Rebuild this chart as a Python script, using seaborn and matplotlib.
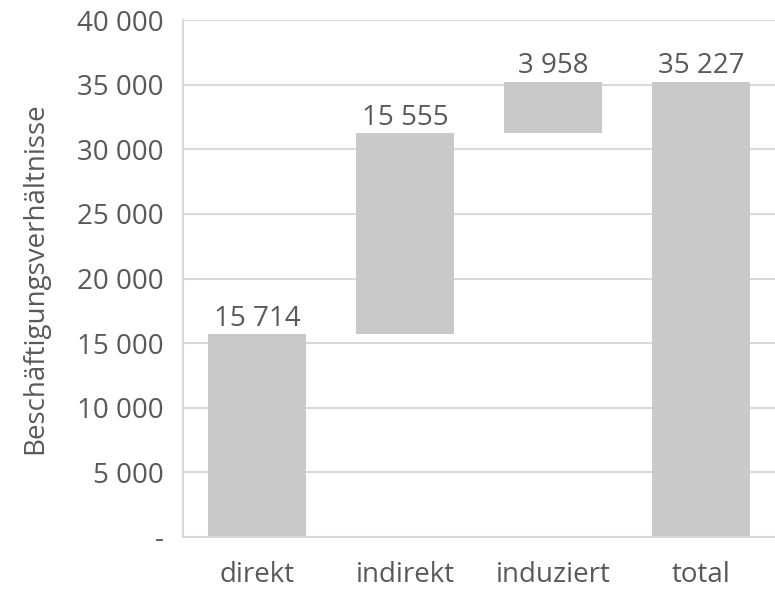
"""
Waterfall of employment effects.
"""
import matplotlib
matplotlib.use('Agg')
import matplotlib.pyplot as plt
import seaborn as sns
import pandas as pd
from matplotlib.ticker import FuncFormatter

categories = ['direkt', 'indirekt', 'induziert', 'total']
values = [15714, 15555, 3958, 35227]
bases = [0, 15714, 31269, 0]

TEXT = '#595959'
GRID = '#d9d9d9'
FS = 20

sns.set_style('white')
plt.rcParams['font.family'] = ['Open Sans', 'DejaVu Sans']

df = pd.DataFrame({'cat': categories, 'val': values})

fig, ax = plt.subplots(figsize=(7.75, 5.91), dpi=100)
sns.barplot(data=df, x='cat', y='val', color='#c9c9c9', saturation=1,
            width=0.66, bottom=bases, linewidth=0, edgecolor='none',
            ax=ax, zorder=2)

labels = [f'{v:,}'.replace(',', ' ') for v in values]
ax.bar_label(ax.containers[0], labels=labels, padding=1, fontsize=FS, color=TEXT)

ax.set_ylim(0, 40000)
ax.set_xlim(-0.5, 3.5)
ax.set_yticks(range(0, 40001, 5000))
ax.yaxis.set_major_formatter(FuncFormatter(
    lambda v, p: '-' if v == 0 else f'{int(v):,}'.replace(',', ' ')))
ax.grid(axis='y', color=GRID, linewidth=1.5, zorder=0)
ax.set_axisbelow(True)

for s in ['top', 'right']:
    ax.spines[s].set_visible(False)
for s in ['left', 'bottom']:
    ax.spines[s].set_color(GRID)
    ax.spines[s].set_linewidth(1.5)

ax.tick_params(axis='both', length=0, labelsize=FS, labelcolor=TEXT)
ax.tick_params(axis='y', pad=14)
ax.tick_params(axis='x', pad=17)
ax.set_xlabel('')
ax.set_ylabel('Beschäftigungsverhältnisse', fontsize=FS, color=TEXT, labelpad=20)

plt.subplots_adjust(left=0.236, right=1.0, top=0.966, bottom=0.0914)
plt.savefig('out.png')
plt.close()
